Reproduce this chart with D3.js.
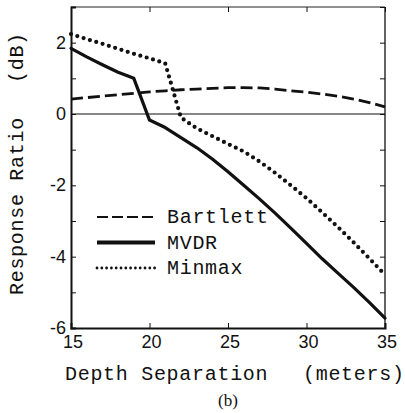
<!DOCTYPE html>
<html>
<head>
<meta charset="utf-8">
<script src="https://cdn.jsdelivr.net/npm/d3@7"></script>
<style>
  html, body { margin: 0; padding: 0; background: #fff; }
  svg { display: block; }
  .mono { font-family: "Liberation Mono", "Courier New", monospace; font-size: 20px; letter-spacing: 0.7px; fill: #111; }
  .tick-label { font-family: "Liberation Sans", Arial, sans-serif; font-size: 18px; fill: #111; }
</style>
</head>
<body>
<svg id="chart" width="405" height="413"></svg>
<script>
// Depth separation (m) and response ratio (dB) for each processor
const depth   = [15, 16, 17, 18, 19, 20, 21, 22, 23, 24, 25, 26, 27, 28, 29, 30, 31, 32, 33, 34, 35];
const bartlett = [0.42, 0.46, 0.50, 0.54, 0.58, 0.62, 0.65, 0.68, 0.70, 0.72, 0.74, 0.74, 0.73, 0.70, 0.65, 0.61, 0.56, 0.50, 0.42, 0.32, 0.20];
const mvdr     = [1.84, 1.60, 1.38, 1.17, 1.00, -0.17, -0.38, -0.66, -0.94, -1.26, -1.62, -2.00, -2.38, -2.78, -3.20, -3.63, -4.06, -4.46, -4.86, -5.28, -5.72];
const minmax   = [2.24, 2.10, 1.97, 1.83, 1.69, 1.56, 1.42, -0.10, -0.40, -0.62, -0.84, -1.05, -1.33, -1.65, -2.00, -2.36, -2.76, -3.17, -3.60, -4.05, -4.51];

const seriesNames = ["Bartlett", "MVDR", "Minmax"];
const xTicks = [15, 20, 25, 30, 35];
const yLabelTicks = [2, 0, -2, -4, -6];
const yMinorTicks = [3, 2, 1, 0, -1, -2, -3, -4, -5, -6];

const svg = d3.select("#chart");
const x = d3.scaleLinear().domain([15, 35]).range([71, 385]);
const y = d3.scaleLinear().domain([-6, 3]).range([328, 7]);

// line styles per series
const styles = {
  Bartlett: { width: 2.8, dash: "12,5", cap: "butt" },
  MVDR:     { width: 3.2, dash: null,   cap: "round" },
  Minmax:   { width: 4.2, dash: "0,6.6", cap: "round" }
};
const legendStyles = {
  Bartlett: { width: 2.2, dash: "11,4", cap: "butt" },
  MVDR:     { width: 4.2, dash: null,   cap: "butt" },
  Minmax:   { width: 2.8, dash: "0,4.8", cap: "round" }
};
const valuesByName = { Bartlett: bartlett, MVDR: mvdr, Minmax: minmax };

// zero reference line
svg.append("line")
  .attr("x1", x(15)).attr("x2", x(35))
  .attr("y1", y(0)).attr("y2", y(0))
  .attr("stroke", "#111").attr("stroke-width", 1.2);

// frame: heavier left/bottom, light top/right
svg.append("line").attr("x1", x(15)).attr("x2", x(35)).attr("y1", y(3)).attr("y2", y(3))
  .attr("stroke", "#222").attr("stroke-width", 1);
svg.append("line").attr("x1", x(35)).attr("x2", x(35)).attr("y1", y(3)).attr("y2", y(-6))
  .attr("stroke", "#222").attr("stroke-width", 1.4);

// axes with inward ticks
const leftAxis = d3.axisLeft(y).tickValues(yMinorTicks).tickSize(-5).tickFormat("");
const rightAxis = d3.axisRight(y).tickValues(yMinorTicks).tickSize(-5).tickFormat("");
const bottomAxis = d3.axisBottom(x).tickValues(xTicks).tickSize(-5).tickFormat("");
const topAxis = d3.axisTop(x).tickValues(xTicks).tickSize(-5).tickFormat("");

function styleAxis(g, w) {
  g.select(".domain").attr("stroke", "#111").attr("stroke-width", w);
  g.selectAll(".tick line").attr("stroke", "#111").attr("stroke-width", 1);
}
svg.append("g").attr("transform", `translate(${x(15)},0)`).call(leftAxis).call(g => styleAxis(g, 2));
svg.append("g").attr("transform", `translate(${x(35)},0)`).call(rightAxis).call(g => { styleAxis(g, 1.4); g.select(".domain").remove(); });
svg.append("g").attr("transform", `translate(0,${y(-6)})`).call(bottomAxis).call(g => styleAxis(g, 2));
svg.append("g").attr("transform", `translate(0,${y(3)})`).call(topAxis).call(g => { styleAxis(g, 1); g.select(".domain").remove(); });

// tick labels
svg.selectAll(".ylab").data(yLabelTicks).enter().append("text")
  .attr("class", "tick-label")
  .attr("x", x(15) - 5)
  .attr("y", d => y(d) + 6)
  .attr("text-anchor", "end")
  .text(d => d < 0 ? "-" + Math.abs(d) : d);

svg.selectAll(".xlab").data(xTicks).enter().append("text")
  .attr("class", "tick-label")
  .attr("x", d => x(d) + 2)
  .attr("y", y(-6) + 20)
  .attr("text-anchor", "middle")
  .text(d => d);

// curves
const line = d3.line().x((d, i) => x(depth[i])).y(d => y(d));
seriesNames.forEach(name => {
  const s = styles[name];
  svg.append("path")
    .datum(valuesByName[name])
    .attr("d", line)
    .attr("fill", "none")
    .attr("stroke", "#111")
    .attr("stroke-width", s.width)
    .attr("stroke-linecap", s.cap)
    .attr("stroke-linejoin", "round")
    .attr("stroke-dasharray", s.dash);
});

// legend
const legendY = d3.scalePoint().domain(seriesNames).range([217, 268]);
seriesNames.forEach(name => {
  const s = legendStyles[name];
  svg.append("line")
    .attr("x1", 97).attr("x2", 155)
    .attr("y1", legendY(name)).attr("y2", legendY(name))
    .attr("stroke", "#111")
    .attr("stroke-width", s.width)
    .attr("stroke-linecap", s.cap)
    .attr("stroke-dasharray", s.dash);
  svg.append("text")
    .attr("class", "mono")
    .attr("x", 167)
    .attr("y", legendY(name) + 6)
    .text(name);
});

// axis titles
svg.append("text").attr("class", "mono").attr("x", 65).attr("y", 380).text("Depth Separation");
svg.append("text").attr("class", "mono").attr("x", 303).attr("y", 380).text("(meters)");

svg.append("text").attr("class", "mono")
  .attr("transform", "translate(23,295) rotate(-90)")
  .text("Response Ratio");
svg.append("text").attr("class", "mono")
  .attr("transform", "translate(23,83) rotate(-90)")
  .text("(dB)");

// panel tag
svg.append("text")
  .attr("x", (x(15) + x(35)) / 2)
  .attr("y", 406)
  .attr("text-anchor", "middle")
  .style("font-family", "'Liberation Serif', 'Times New Roman', serif")
  .style("font-size", "17px")
  .style("fill", "#111")
  .text("(b)");
</script>
</body>
</html>
